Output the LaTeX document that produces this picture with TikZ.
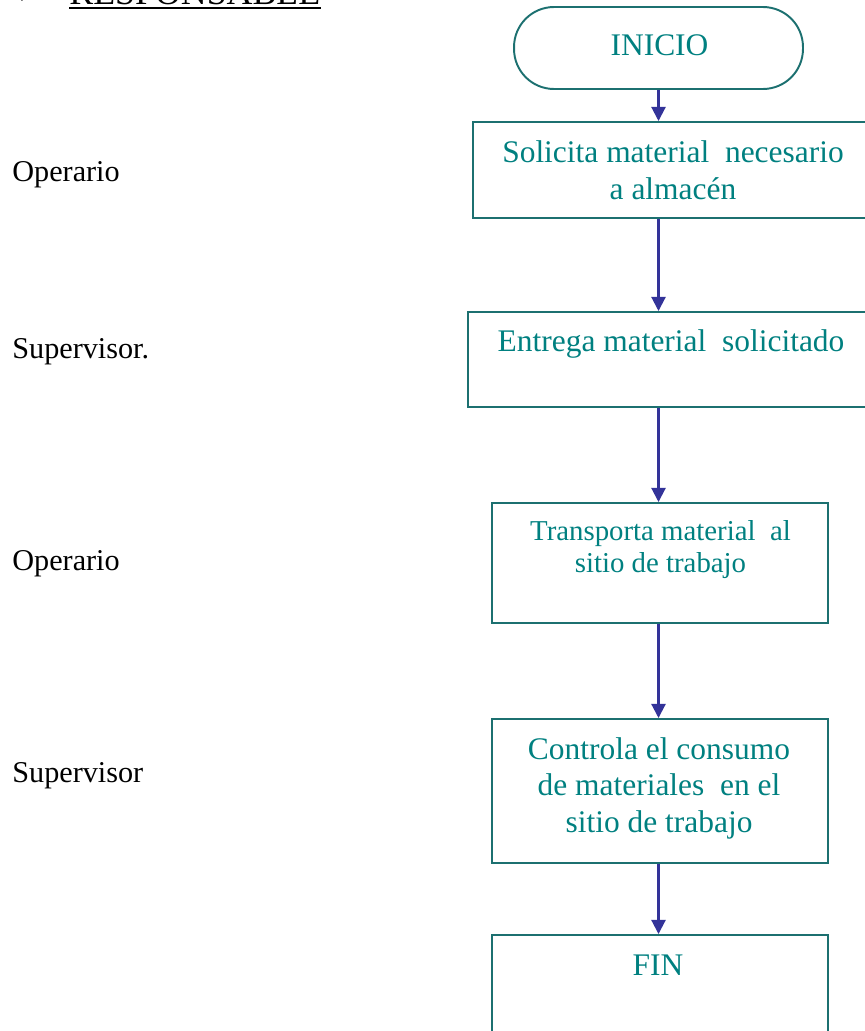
\documentclass[tikz,border=0pt]{standalone}
\usepackage{fontspec}
\setmainfont{Liberation Serif}
\usetikzlibrary{arrows.meta}
\definecolor{verde}{RGB}{0,128,128}
\definecolor{borde}{RGB}{28,112,112}
\definecolor{azul}{RGB}{51,51,153}
\begin{document}
\begin{tikzpicture}[x=0.02cm,y=-0.02cm,
  caja/.style={draw=borde,line width=1.1pt,anchor=north west,inner sep=0pt},
  texto/.style={text=verde,align=center,inner sep=0pt,anchor=base,
    font=\fontsize{17.9}{21}\selectfont},
  etiqueta/.style={anchor=base west,inner sep=0pt,font=\fontsize{17.2}{20}\selectfont},
  flujo/.style={draw=azul,line width=1.2pt,-{Triangle[length=8pt,width=8pt]}}]
\useasboundingbox (0,0) rectangle (865,1031);
% encabezado
\node[anchor=base,inner sep=0pt,font=\fontsize{20}{24}\selectfont] (mas) at (22,5) {+};
\node[anchor=base west,inner sep=0pt,font=\fontsize{20.4}{24}\selectfont] (resp) at (69,5) {RESPONSABLE};
\draw[line width=1.3pt] ([yshift=-1.8pt]resp.base west) -- ([yshift=-1.8pt]resp.base east);
% responsables
\node[etiqueta] (r1) at (12,181) {Operario};
\node[etiqueta] (r2) at (12,358) {Supervisor.};
\node[etiqueta] (r3) at (12,570) {Operario};
\node[etiqueta] (r4) at (12,782) {Supervisor};
% cajas
\node[draw=borde,line width=1.1pt,rounded corners=0.8cm,minimum width=5.78cm,minimum height=1.64cm] (ini) at (658.5,48) {};
\node[caja,minimum width=8.04cm,minimum height=1.92cm] (p1) at (472,121) {};
\node[caja,minimum width=8.16cm,minimum height=1.9cm] (p2) at (467,311) {};
\node[caja,minimum width=6.72cm,minimum height=2.4cm] (p3) at (491,502) {};
\node[caja,minimum width=6.72cm,minimum height=2.88cm] (p4) at (491,718) {};
\node[caja,minimum width=6.72cm,minimum height=3cm] (fin) at (491,934) {};
% textos (base = ultima linea)
\node[texto] (t0) at (659.5,55) {INICIO};
\node[texto] (t1) at (673,199) {Solicita material~ necesario\\a almacén};
\node[texto] (t2) at (671,351) {Entrega material~ solicitado};
\node[texto,font=\fontsize{16.4}{18.1}\selectfont] (t3) at (660.5,572) {Transporta material~ al\\sitio de trabajo};
\node[texto,font=\fontsize{17.9}{20.7}\selectfont] (t4) at (659,832) {Controla el consumo\\de materiales~ en el\\sitio de trabajo};
\node[texto] (t5) at (658,975) {FIN};
% flechas
\draw[flujo] (ini.south) -- (ini.south |- p1.north);
\draw[flujo] (p1.south -| ini) -- (p2.north -| ini);
\draw[flujo] (p2.south -| ini) -- (p3.north -| ini);
\draw[flujo] (p3.south -| ini) -- (p4.north -| ini);
\draw[flujo] (p4.south -| ini) -- (fin.north -| ini);
\end{tikzpicture}
\end{document}
